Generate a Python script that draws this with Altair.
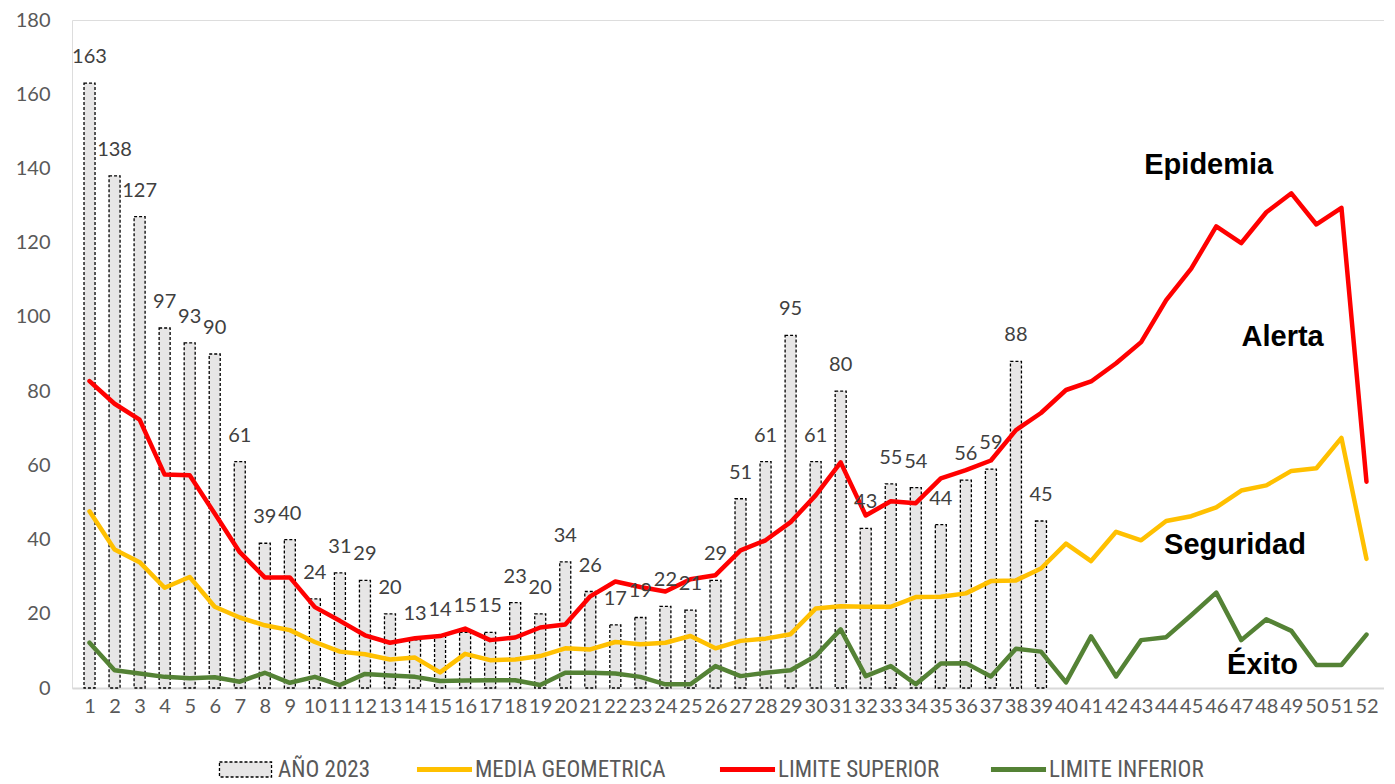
import altair as alt
import pandas as pd

# ---------------- data ----------------
semanas = list(range(1, 53))
casos_2023 = [163, 138, 127, 97, 93, 90, 61, 39, 40, 24, 31, 29, 20, 13, 14, 15, 15, 23, 20, 34,
              26, 17, 19, 22, 21, 29, 51, 61, 95, 61, 80, 43, 55, 54, 44, 56, 59, 88, 45]
media_geometrica = [47.6, 37.3, 33.9, 27.0, 29.9, 21.9, 19.0, 16.9, 15.6, 12.4,
                    9.8, 9.1, 7.7, 8.2, 4.2, 9.2, 7.5, 7.7, 8.6, 10.7,
                    10.4, 12.4, 11.8, 12.2, 14.0, 10.7, 12.7, 13.3, 14.5, 21.4,
                    22.0, 21.9, 21.9, 24.5, 24.6, 25.5, 28.8, 29.0, 32.2, 38.9,
                    34.2, 42.1, 39.8, 45.0, 46.3, 48.7, 53.2, 54.6, 58.5, 59.2,
                    67.4, 34.8]
limite_superior = [82.7, 76.6, 72.3, 57.5, 57.3, 47.0, 36.6, 29.8, 29.8, 21.8,
                   18.1, 14.2, 12.2, 13.4, 14.0, 16.0, 12.9, 13.6, 16.3, 17.1,
                   24.7, 28.7, 27.2, 26.0, 29.3, 30.4, 37.1, 39.8, 44.7, 51.9,
                   60.8, 46.5, 50.3, 49.8, 56.5, 58.7, 61.3, 69.5, 74.1, 80.3,
                   82.6, 87.5, 93.2, 104.5, 113.0, 124.4, 119.9, 128.2, 133.3, 124.9,
                   129.4, 55.6]
limite_inferior = [12.2, 4.8, 3.9, 3.0, 2.6, 2.9, 1.7, 4.1, 1.4, 3.0,
                   0.8, 3.8, 3.4, 3.0, 1.9, 2.0, 2.1, 2.1, 0.8, 4.1,
                   4.1, 3.9, 3.0, 1.0, 1.0, 5.9, 3.2, 4.1, 4.8, 8.6,
                   15.8, 3.2, 5.9, 1.0, 6.6, 6.7, 3.1, 10.6, 9.8, 1.5,
                   13.9, 3.1, 12.9, 13.7, 19.6, 25.7, 12.9, 18.5, 15.4, 6.2,
                   6.2, 14.4]
zonas = ["Epidemia", "Alerta", "Seguridad", "Éxito"]
zonas_semana = [45.7, 48.65, 46.75, 47.85]
zonas_valor = [138.6, 92.2, 36.0, 3.9]
y_ticks = list(range(0, 181, 20))

W, H = 1312, 668
NUM_FONT = "Lato"
LEG_FONT = "Liberation Sans Narrow, Roboto Condensed, Lato"
GRAY_TXT = "#595959"

df_lines = pd.DataFrame({"semana": semanas, "media": media_geometrica,
                         "sup": limite_superior, "inf": limite_inferior})
df_bar = pd.DataFrame({"semana": semanas[:len(casos_2023)], "casos": casos_2023})
df_z = pd.DataFrame({"semana": zonas_semana, "valor": zonas_valor, "zona": zonas})

x_scale = alt.Scale(domain=[0.5, 52.5], nice=False, zero=False)
x_axis = alt.Axis(values=semanas, format="d", title=None, ticks=False, tickSize=0, grid=False,
                  domainColor="#d9d9d9", domainWidth=2, labelFontSize=20, labelColor=GRAY_TXT,
                  labelFont=NUM_FONT, labelPadding=8, labelFlush=False, labelOverlap=False,
                  labelBound=False)
y_scale = alt.Scale(domain=[0, 180], nice=False, zero=True)
y_axis = alt.Axis(values=y_ticks, title=None, domain=False, ticks=False, tickSize=0, grid=False,
                  labelFontSize=20, labelColor=GRAY_TXT, labelFont=NUM_FONT, labelPadding=22)


def X():
    return alt.X("semana:Q", scale=x_scale, axis=x_axis)


def Y(field):
    return alt.Y(f"{field}:Q", scale=y_scale, axis=y_axis)


LEG_Y = 738
LEG_FS = 23

bars = alt.Chart(df_bar).transform_calculate(serie="'AÑO 2023'").mark_bar(
    size=11, stroke="black", strokeDash=[3, 2], strokeWidth=1.3
).encode(
    x=X(), y=Y("casos"),
    fill=alt.Fill("serie:N", scale=alt.Scale(domain=["AÑO 2023"], range=["#e7e6e6"]),
                  legend=alt.Legend(title=None, orient="none", legendX=162, legendY=LEG_Y,
                                    symbolType="M-3.47,-1H3.47V1H-3.47Z", symbolSize=225,
                                    symbolStrokeColor="black", symbolDash=[3, 2],
                                    symbolStrokeWidth=1.3, labelFontSize=LEG_FS,
                                    labelColor=GRAY_TXT, labelFont=LEG_FONT, labelOffset=21,
                                    labelLimit=400, symbolOpacity=1))
)

bar_labels = alt.Chart(df_bar).mark_text(
    baseline="middle", dy=-26, fontSize=20, font=NUM_FONT, color="#404040"
).encode(x=X(), y=Y("casos"), text=alt.Text("casos:Q", format="d"))


def line_layer(field, name, color, legx):
    return alt.Chart(df_lines).transform_calculate(serie=f"'{name}'").mark_line(
        strokeWidth=4.5, strokeJoin="round", strokeCap="round"
    ).encode(
        x=X(), y=Y(field),
        stroke=alt.Stroke("serie:N", scale=alt.Scale(domain=[name], range=[color]),
                          legend=alt.Legend(title=None, orient="none", legendX=legx,
                                            legendY=LEG_Y, symbolType="M-3.67,0H3.67",
                                            symbolSize=225, symbolStrokeWidth=5,
                                            labelFontSize=LEG_FS, labelColor=GRAY_TXT,
                                            labelFont=LEG_FONT, labelOffset=19,
                                            labelLimit=400))
    )


l_media = line_layer("media", "MEDIA GEOMETRICA", "#ffc000", 361)
l_sup = line_layer("sup", "LIMITE SUPERIOR", "#ff0000", 664)
l_inf = line_layer("inf", "LIMITE INFERIOR", "#548235", 935)

zona_txt = alt.Chart(df_z).mark_text(
    font="Liberation Sans", fontWeight="bold", fontSize=29, baseline="alphabetic",
    align="center", color="black"
).encode(x=X(), y=Y("valor"), text="zona:N")

chart = alt.layer(bars, l_media, l_sup, l_inf, bar_labels, zona_txt).resolve_scale(
    fill="independent", stroke="independent"
).resolve_legend(fill="independent", stroke="independent").properties(
    width=W, height=H, padding={"left": 7, "top": 2, "right": 0, "bottom": 0}
).configure_view(stroke=None).configure(background="white")

chart.save("out.html", embed_options={"renderer": "svg", "actions": False})
